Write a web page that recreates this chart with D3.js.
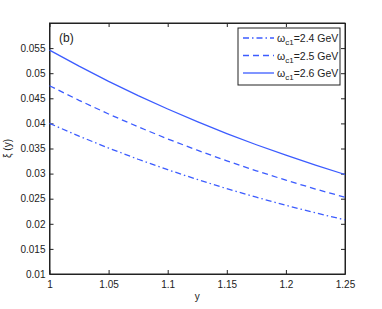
<!DOCTYPE html>
<html lang="en">
<head>
  <meta charset="UTF-8"/>
  <title>xi(y)</title>
  <script src="https://d3js.org/d3.v7.min.js"></script>
  <style>
    body { margin:0; background:#fff; font-family:"Liberation Sans",Arial,sans-serif; }
    svg { display:block; }
    .tick text { font-size:10px; fill:#222; }
  </style>
</head>
<body>
  <svg width="382" height="309"></svg>
  <script>
    const yVals = [1, 1.025, 1.05, 1.075, 1.1, 1.125, 1.15, 1.175, 1.2, 1.225, 1.25];
    const xi24 = [0.0400, 0.03746, 0.03509, 0.03286, 0.03078, 0.02883, 0.02700, 0.02529, 0.02369, 0.02218, 0.02078];
    const xi25 = [0.0475, 0.04460, 0.04187, 0.03931, 0.03691, 0.03466, 0.03254, 0.03055, 0.02869, 0.02693, 0.02529];
    const xi26 = [0.0546, 0.05140, 0.04838, 0.04554, 0.04287, 0.04035, 0.03798, 0.03575, 0.03366, 0.03168, 0.02982];
    const xTicks = [1, 1.05, 1.1, 1.15, 1.2, 1.25];
    const yTicks = [0.01, 0.015, 0.02, 0.025, 0.03, 0.035, 0.04, 0.045, 0.05, 0.055];
    const seriesLabels = ['2.4', '2.5', '2.6'];

    const series = [
      {lab: seriesLabels[0], v: xi24, dash: '6,3,1.5,3'},
      {lab: seriesLabels[1], v: xi25, dash: '6,4'},
      {lab: seriesLabels[2], v: xi26, dash: null}
    ];
    const col = '#3c5cff';

    const svg = d3.select('svg');
    const L = 49.5, R = 345, T = 23, B = 274;
    const x = d3.scaleLinear().domain([1, 1.25]).range([L, R]);
    const y = d3.scaleLinear().domain([0.01, 0.06]).range([B, T]);
    const fmt = d => String(+d.toFixed(3));

    // axes, ticks inward
    svg.append('g').attr('transform', `translate(0,${B})`)
      .call(d3.axisBottom(x).tickValues(xTicks).tickFormat(fmt).tickSizeInner(-4).tickSizeOuter(0).tickPadding(7));
    svg.append('g').attr('transform', `translate(0,${T})`)
      .call(d3.axisTop(x).tickValues(xTicks).tickFormat('').tickSizeInner(-4).tickSizeOuter(0));
    svg.append('g').attr('transform', `translate(${L},0)`)
      .call(d3.axisLeft(y).tickValues(yTicks).tickFormat(fmt).tickSizeInner(-4).tickSizeOuter(0).tickPadding(4));
    svg.append('g').attr('transform', `translate(${R},0)`)
      .call(d3.axisRight(y).tickValues(yTicks).tickFormat('').tickSizeInner(-4).tickSizeOuter(0));
    svg.selectAll('.domain').attr('stroke', '#222');
    svg.selectAll('.tick line').attr('stroke', '#222');

    svg.append('rect').attr('x', L).attr('y', T).attr('width', R - L).attr('height', B - T)
      .attr('fill', 'none').attr('stroke', '#222').attr('stroke-width', 1);

    const line = d3.line().x((d, i) => x(yVals[i])).y(d => y(d));
    series.forEach(s => {
      svg.append('path').attr('d', line(s.v)).attr('fill', 'none')
        .attr('stroke', col).attr('stroke-width', 1.3)
        .attr('stroke-dasharray', s.dash);
    });

    // labels
    svg.append('text').attr('x', 59).attr('y', 42).attr('font-size', 12).attr('fill', '#222').text('(b)');
    svg.append('text').attr('x', x(1.125)).attr('y', 300).attr('text-anchor', 'middle')
      .attr('font-size', 10).attr('fill', '#222').text('y');
    svg.append('text').attr('transform', `translate(11,${(T + B) / 2}) rotate(-90)`)
      .attr('text-anchor', 'middle').attr('font-size', 10).attr('fill', '#222').text('ξ (y)');

    // legend
    const lg = svg.append('g');
    lg.append('rect').attr('x', 238).attr('y', 28).attr('width', 102).attr('height', 57)
      .attr('fill', '#fff').attr('stroke', '#222');
    series.forEach((s, i) => {
      const yy = 38 + i * 17.5;
      lg.append('line').attr('x1', 243).attr('x2', 274).attr('y1', yy).attr('y2', yy)
        .attr('stroke', col).attr('stroke-width', 1.3).attr('stroke-dasharray', s.dash);
      const t = lg.append('text').attr('x', 277).attr('y', yy + 4).attr('font-size', 10.5).attr('fill', '#222');
      t.append('tspan').text('ω');
      t.append('tspan').attr('dy', 3).attr('font-size', 8).text('c1');
      t.append('tspan').attr('dy', -3).text(`=${s.lab} GeV`);
    });
  </script>
</body>
</html>
